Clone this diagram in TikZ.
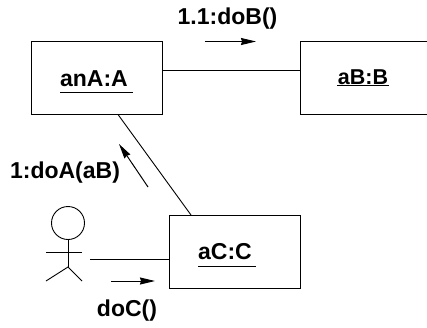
\documentclass[tikz,border=0pt]{standalone}
\usepackage{fontspec}
\setmainfont{Liberation Sans}
\usetikzlibrary{arrows.meta}
\tikzset{
  objbox/.style={draw, line width=1pt, minimum width=131pt, minimum height=73pt, inner sep=0pt},
  objlabel/.style={font=\fontsize{23}{26}\selectfont\bfseries, inner sep=0pt},
  msglabel/.style={font=\fontsize{23}{26}\selectfont\bfseries, inner sep=0pt},
  msgarrow/.style={line width=1pt, -{Stealth[length=15pt,width=7pt,inset=1pt]}},
}
\begin{document}
\begin{tikzpicture}[x=1pt,y=-1pt,line width=.9pt]
\useasboundingbox (0,0) rectangle (427,327);
% objects
\node[objbox] (anA) at (96.5,77.5) {};
\node[objbox] (aB) at (365.5,77.5) {};
\node[objbox] (aC) at (234.5,252) {};
\node[objlabel] (anAname) at (94,78.5) {anA:A};
\node[objlabel, font=\fontsize{21.5}{26}\selectfont\bfseries] (aBname) at (363,77.5) {aB:B};
\node[objlabel] (aCname) at (225,251.5) {aC:C};
% underlines
\draw[line width=.8pt] (60,92) -- (133,92);
\draw[line width=.8pt] (337,85.5) -- (389,85.5);
\draw[line width=.8pt] (198,266.5) -- (256,266.5);
% links
\draw (anA.east |- 0,70.5) -- (aB.west |- 0,70.5);
\draw ([xshift=21.5pt]anA.south) -- ([xshift=-43.5pt]aC.north);
% actor
\node[draw, circle, minimum size=33pt, inner sep=0pt] (head) at (68,223) {};
\coordinate (hip) at (68,267);
\coordinate (armL) at (46,252);
\coordinate (armR) at (82,252);
\coordinate (footL) at (46,281);
\coordinate (footR) at (82,281);
\coordinate (actorEnd) at (90,259.5);
\draw (head.south) -- (hip);
\draw (armL) -- (armR);
\draw (footL) -- (hip) -- (footR);
\draw (actorEnd) -- (aC.west |- actorEnd);
% messages
\node[msglabel] (doB) at (227.5,19) {1.1:doB()};
\coordinate (doBs) at (205,41.5);
\coordinate (doBe) at (256,41.5);
\draw[msgarrow] (doBs) -- (doBe);
\node[msglabel] (doA) at (65,173) {1:doA(aB)};
\coordinate (doAs) at (148,187);
\coordinate (doAe) at (119,144);
\draw[msgarrow] (doAs) -- (doAe);
\node[msglabel] (doC) at (127,311) {doC()};
\coordinate (doCs) at (111,281);
\coordinate (doCe) at (155,281);
\draw[msgarrow] (doCs) -- (doCe);
\end{tikzpicture}
\end{document}
